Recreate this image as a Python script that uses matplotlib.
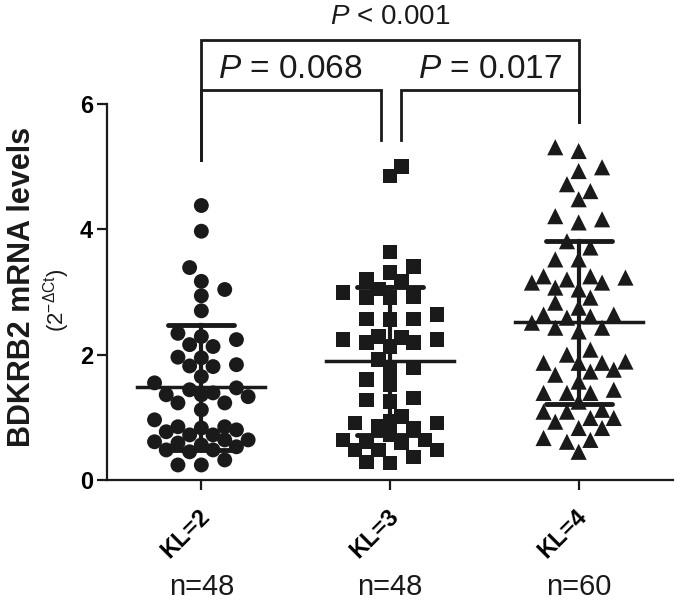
import numpy as np
import matplotlib
matplotlib.use("Agg")
import matplotlib.pyplot as plt
import matplotlib.transforms as mtransforms

plt.rcParams['font.family'] = ['Liberation Sans', 'DejaVu Sans']
plt.rcParams['mathtext.fontset'] = 'custom'
plt.rcParams['mathtext.rm'] = 'Liberation Sans'
plt.rcParams['mathtext.it'] = 'Liberation Sans:italic'

groups = ['KL=2', 'KL=3', 'KL=4']
counts = ['n=48', 'n=48', 'n=60']

kl2 = [4.38, 3.97, 3.39, 3.17, 3.04, 2.94, 2.70, 2.34, 2.29, 2.16, 2.24, 2.13,
       1.96, 1.84, 1.81, 1.82, 1.95, 1.65, 1.55, 1.47, 1.33, 1.36, 1.44, 1.36,
       1.39, 1.23, 1.23, 1.12, 0.96, 0.85, 0.72, 0.77, 0.80, 0.83, 0.85, 0.72,
       0.48, 0.56, 0.64, 0.59, 0.61, 0.64, 0.53, 0.48, 0.45, 0.32, 0.24, 0.24]
kl3 = [5.00, 4.85, 3.64, 3.41, 3.31, 3.20, 3.17, 3.05, 2.91, 2.93, 2.91, 2.99,
       2.57, 2.64, 2.56, 2.57, 2.19, 2.29, 2.27, 2.24, 2.24, 2.13, 2.19, 1.79,
       1.92, 1.76, 1.60, 1.28, 1.52, 1.25, 1.31, 0.85, 0.93, 1.01, 0.91, 0.83,
       0.91, 0.61, 0.64, 0.64, 0.59, 0.48, 0.37, 0.27, 0.48, 0.29, 0.48, 0.72]
kl4 = [5.31, 5.25, 4.99, 4.93, 4.72, 4.61, 4.48, 4.16, 4.11, 4.21, 3.81, 3.71,
       3.52, 3.52, 3.15, 3.07, 3.23, 3.25, 3.20, 3.25, 3.15, 3.04, 2.91, 2.75,
       2.83, 2.64, 2.59, 2.61, 2.64, 2.43, 2.51, 2.37, 2.43, 2.08, 2.00, 1.87,
       1.87, 1.89, 1.73, 1.76, 1.87, 1.68, 1.57, 1.44, 1.39, 1.39, 1.39, 1.25,
       1.12, 1.09, 1.09, 0.99, 0.93, 0.99, 0.83, 0.83, 0.64, 0.61, 0.67, 0.45]

means = [1.48, 1.90, 2.52]
sds = [1.00, 1.18, 1.30]

p_labels = ['$P$ = 0.068', '$P$ = 0.017', '$P$ < 0.001']

col = '#1a1a1a'
W, H = 680, 602
fig = plt.figure(figsize=(W / 100, H / 100), dpi=100)
ax = fig.add_axes([107 / W, (H - 480) / H, (673 - 107) / W, (480 - 104) / H])
ax.set_xlim(-0.5, 2.5)
ax.set_ylim(0, 6)

px_x = (673 - 107) / 3.0   # pixels per group unit
px_y = (480 - 104) / 6.0   # pixels per y unit


def swarm(vals, step=11.7, mind=14.0, maxc=4):
    # column swarm kept within +-maxc columns; if crowded take the roomiest slot
    vals = np.asarray(vals)
    order = np.argsort(vals)
    placed = []
    cols = np.zeros(len(vals))
    cands = [0]
    for k in range(1, maxc + 1):
        cands += [-k, k]
    for i in order:
        nl = sum(1 for c, _ in placed if c < 0)
        nr = sum(1 for c, _ in placed if c > 0)
        best, bestd = 0, -1
        for c in cands:
            cc = c if nl <= nr else -c
            dmin = 1e9
            for pc, py in placed:
                d = np.hypot((cc - pc) * step, (vals[i] - py) * px_y)
                dmin = min(dmin, d)
            if dmin >= mind:
                best = cc
                break
            if dmin > bestd + 1.0:
                best, bestd = cc, dmin
        placed.append((best, vals[i]))
        cols[i] = best
    return cols * step / px_x


data = [kl2, kl3, kl4]
markers = ['o', 's', '^']
sizes = [115, 110, 135]
for i, vals in enumerate(data):
    xs = i + swarm(vals)
    ax.scatter(xs, vals, marker=markers[i], s=sizes[i], color=col,
               edgecolors='none', zorder=2, clip_on=False)
    m, s = means[i], sds[i]
    ax.plot([i - 0.34, i + 0.34], [m, m], color=col, lw=2.5, zorder=3)
    ax.plot([i, i], [m - s, m + s], color=col, lw=3, zorder=3)
    for yy in (m - s, m + s):
        ax.plot([i - 0.175, i + 0.175], [yy, yy], color=col, lw=3.5,
                solid_capstyle='round', zorder=3)

# brackets
bk = dict(color=col, lw=2, clip_on=False, solid_joinstyle='miter')
y_top = (480 - 40) / px_y
y_mid = (480 - 90) / px_y
ax.plot([0, 0, 2, 2], [(480 - 160) / px_y, y_top, y_top, (480 - 122) / px_y], **bk)
ax.plot([0, 0, 0.95, 0.95], [(480 - 160) / px_y, y_mid, y_mid, (480 - 140) / px_y], **bk)
ax.plot([1.06, 1.06, 2, 2], [(480 - 140) / px_y, y_mid, y_mid, (480 - 122) / px_y], **bk)
ax.text(0.47, (480 - 70) / px_y, p_labels[0], ha='center', va='center',
        fontsize=24, color=col)
ax.text(1.53, (480 - 70) / px_y, p_labels[1], ha='center', va='center',
        fontsize=24, color=col)
ax.text(1.0, (480 - 17) / px_y, p_labels[2], ha='center', va='center',
        fontsize=20, color=col)

for sp in ['top', 'right']:
    ax.spines[sp].set_visible(False)
for sp in ['left', 'bottom']:
    ax.spines[sp].set_linewidth(1.6)
    ax.spines[sp].set_color(col)

ax.set_yticks([0, 2, 4, 6])
ax.set_yticklabels(['0', '2', '4', '6'], fontsize=17, fontweight='bold')
ax.set_xticks([0, 1, 2])
ax.set_xticklabels(groups, fontsize=17, fontweight='bold', rotation=45,
                   ha='right', va='center', rotation_mode='anchor')
ax.tick_params(axis='both', length=7, width=1.6, color=col, pad=3)
ax.tick_params(axis='x', pad=17)
shift = mtransforms.ScaledTranslation(0.05, 0, fig.dpi_scale_trans)
for lab in ax.get_xticklabels():
    lab.set_transform(lab.get_transform() + shift)

trans = mtransforms.blended_transform_factory(ax.transData, fig.transFigure)
for i, t in enumerate(counts):
    ax.text(i, 1 - 587 / H, t, transform=trans, ha='center', va='center',
            fontsize=21, color=col)

fig.text(22 / W, 1 - 287 / H, 'BDKRB2 mRNA levels', rotation=90, ha='center',
         va='center', fontsize=22, fontweight='bold', color=col)
fig.text(57 / W, 1 - 300 / H, r'(2$^{-\Delta\mathrm{Ct}}$)', rotation=90,
         ha='center', va='center', fontsize=16, color=col)

fig.savefig('out.png', dpi=100)
